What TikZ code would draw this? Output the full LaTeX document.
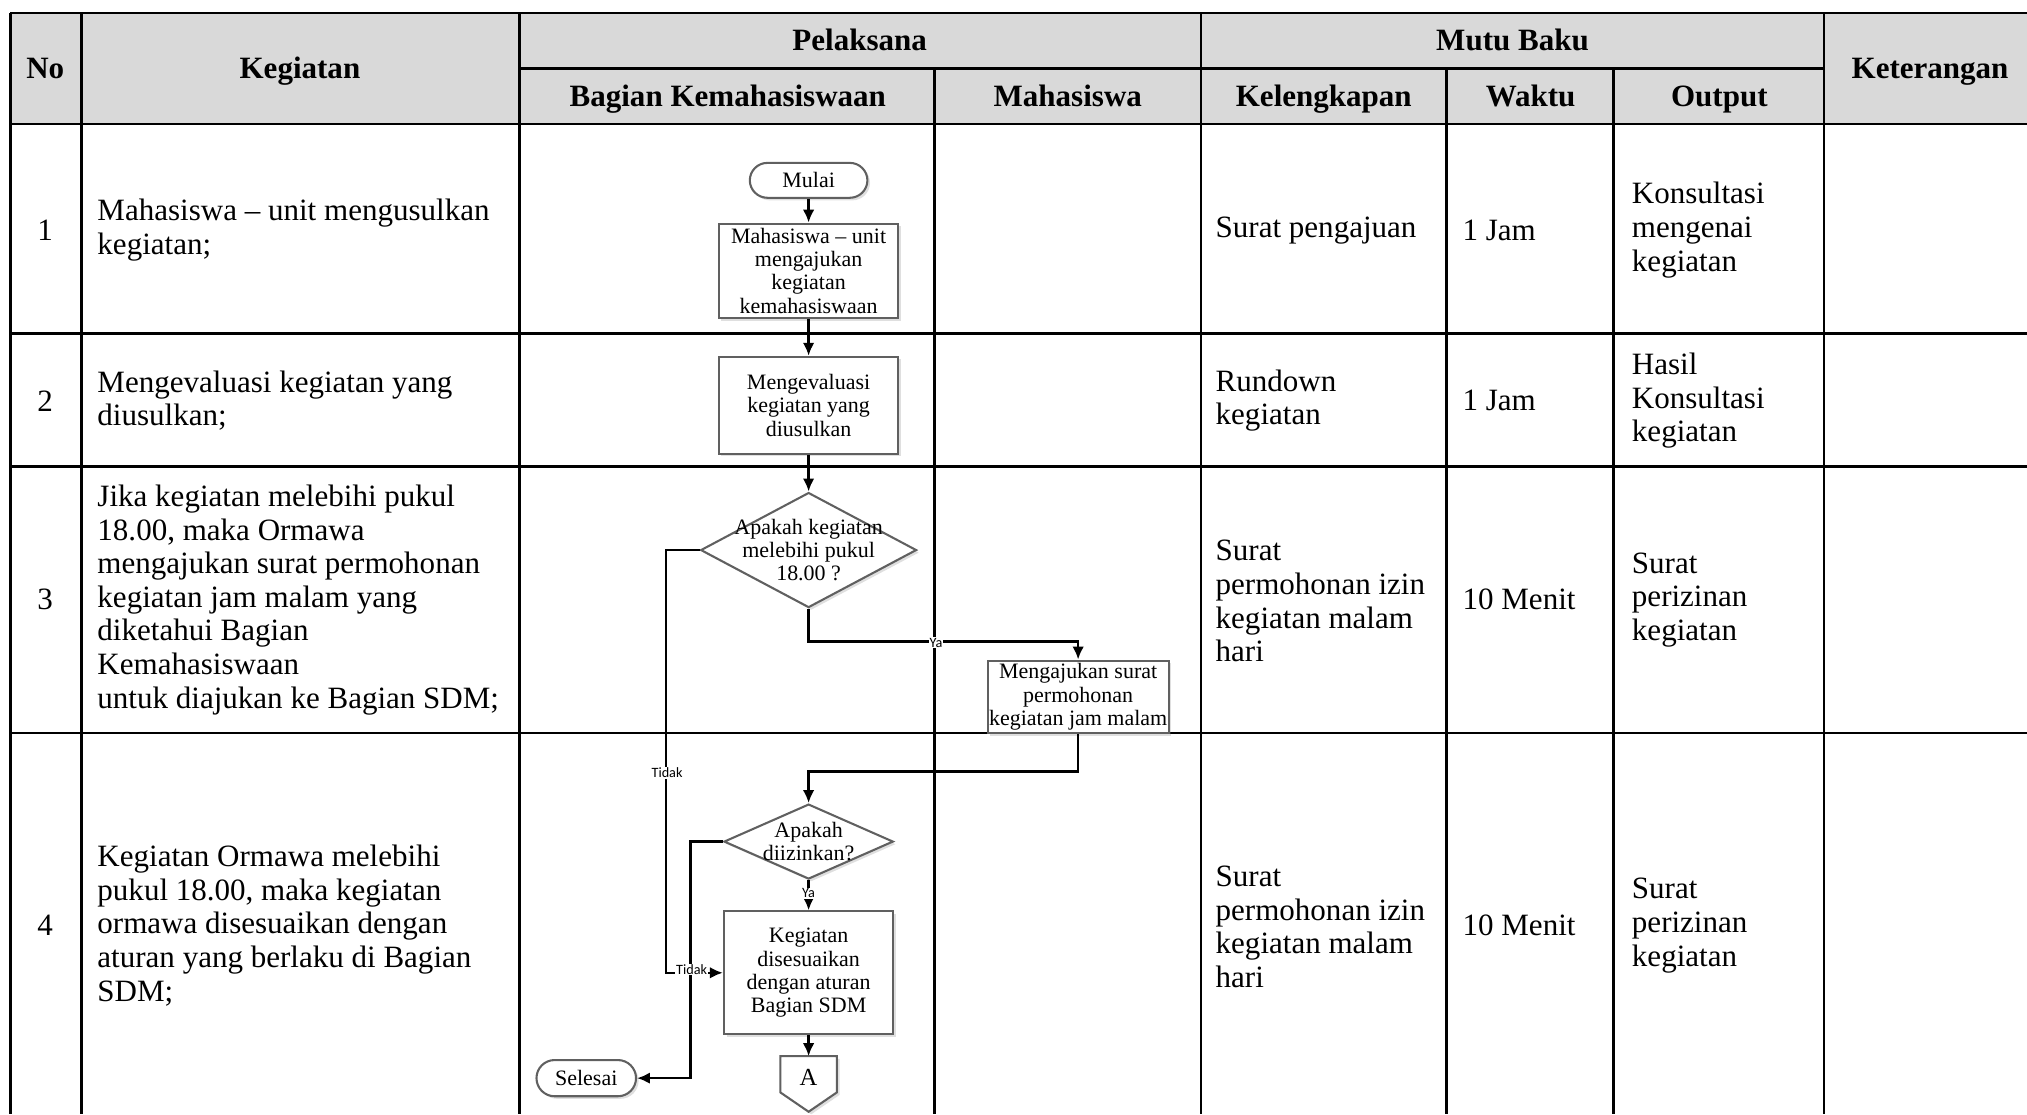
\documentclass[tikz,border=0pt]{standalone}
\usepackage{fontspec}
\setmainfont{Liberation Serif}
\newfontfamily\labelfont{Carlito}
\usetikzlibrary{arrows.meta,shadows,calc,shapes.geometric}
\definecolor{headfill}{RGB}{217,217,217}
\definecolor{shapeline}{RGB}{96,96,96}

\begin{document}
\begin{tikzpicture}[x=0.5pt,y=-0.5pt,
  grid/.style={line width=1pt,black},
  headtxt/.style={font=\bfseries\fontsize{12}{13}\selectfont,inner sep=0,text height=9pt,text depth=1pt},
  celltxt/.style={font=\fontsize{12}{13}\selectfont,align=left,anchor=west,inner sep=0},
  numtxt/.style={font=\fontsize{12}{13}\selectfont,inner sep=0},
  fctxt/.style={font=\fontsize{8.5}{9}\selectfont,align=center,inner sep=0},
  shade/.style={drop shadow={shadow xshift=1pt,shadow yshift=-1pt,opacity=0.25}},
  fcbox/.style={draw=shapeline,line width=0.8pt,fill=white,fctxt,shade},
  terminal/.style={fcbox,rounded corners=6.8pt,minimum height=13.5pt},
  decision/.style={diamond,draw=shapeline,line width=0.8pt,fill=white,inner sep=0,shade},
  arr/.style={line width=1pt,-{Latex[length=5pt,width=4.5pt]}},
  lbl/.style={font=\labelfont\fontsize{5.5}{6}\selectfont,fill=white,inner sep=0.3pt}
]
\useasboundingbox (0,0) rectangle (1568,862);

% ---------- table header ----------
\fill[headfill] (8,10) rectangle (1568,96);
\draw[grid] (8,10) -- (1568,10);
\draw[grid] (402,53) -- (1411,53);
\foreach \yy in {96,258,361,567} \draw[grid] (8,\yy) -- (1568,\yy);
\foreach \xx in {8,63,402,929,1411} \draw[grid] (\xx,10) -- (\xx,862);
\foreach \xx in {723,1119,1248} \draw[grid] (\xx,53) -- (\xx,862);

\node[headtxt] (hNo)  at (35,53)   {No};
\node[headtxt] (hKeg) at (232,53)  {Kegiatan};
\node[headtxt] (hPel) at (665,31)  {Pelaksana};
\node[headtxt] (hBK)  at (563,74)  {Bagian Kemahasiswaan};
\node[headtxt] (hMhs) at (826,74)  {Mahasiswa};
\node[headtxt] (hMB)  at (1170,31) {Mutu Baku};
\node[headtxt] (hKel) at (1024,74) {Kelengkapan};
\node[headtxt] (hWkt) at (1184,74) {Waktu};
\node[headtxt] (hOut) at (1330,74) {Output};
\node[headtxt] (hKet) at (1493,53) {Keterangan};

% ---------- row numbers ----------
\node[numtxt] (no1) at (35,178) {1};
\node[numtxt] (no2) at (35,310) {2};
\node[numtxt] (no3) at (35,464) {3};
\node[numtxt] (no4) at (35,716) {4};

% ---------- activities ----------
\node[celltxt] (keg1) at (75,178) {Mahasiswa -- unit mengusulkan\\kegiatan;};
\node[celltxt] (keg2) at (75,310) {Mengevaluasi kegiatan yang\\diusulkan;};
\node[celltxt] (keg3) at (75,464) {Jika kegiatan melebihi pukul\\18.00, maka Ormawa\\mengajukan surat permohonan\\kegiatan jam malam yang\\diketahui Bagian\\Kemahasiswaan\\untuk diajukan ke Bagian SDM;};
\node[celltxt] (keg4) at (75,716) {Kegiatan Ormawa melebihi\\pukul 18.00, maka kegiatan\\ormawa disesuaikan dengan\\aturan yang berlaku di Bagian\\SDM;};

% ---------- quality standards ----------
\node[celltxt] (kel1) at (940,178) {Surat pengajuan};
\node[celltxt] (kel2) at (940,310) {Rundown\\kegiatan};
\node[celltxt] (kel3) at (940,465) {Surat\\permohonan izin\\kegiatan malam\\hari};
\node[celltxt] (kel4) at (940,717) {Surat\\permohonan izin\\kegiatan malam\\hari};

\node[celltxt] (wkt1) at (1131,178) {1 Jam};
\node[celltxt] (wkt2) at (1131,310) {1 Jam};
\node[celltxt] (wkt3) at (1131,464) {10 Menit};
\node[celltxt] (wkt4) at (1131,716) {10 Menit};

\node[celltxt] (out1) at (1262,178) {Konsultasi\\mengenai\\kegiatan};
\node[celltxt] (out2) at (1262,310) {Hasil\\Konsultasi\\kegiatan};
\node[celltxt] (out3) at (1262,464) {Surat\\perizinan\\kegiatan};
\node[celltxt] (out4) at (1262,716) {Surat\\perizinan\\kegiatan};

% ---------- flowchart ----------
\node[terminal,minimum width=45.5pt] (mulai) at (625.5,139.5) {Mulai};
\node[fcbox,minimum width=69.5pt,minimum height=36.5pt] (box1) at (625.5,209.5)
  {Mahasiswa -- unit\\mengajukan\\kegiatan\\kemahasiswaan};
\node[fcbox,minimum width=69.5pt,minimum height=37.5pt] (box2) at (625.5,313.5)
  {Mengevaluasi\\kegiatan yang\\diusulkan};
\node[decision,minimum width=83.5pt,minimum height=44.5pt,
  label={[fctxt]center:{Apakah kegiatan\\melebihi pukul\\18.00 ?}}] (dec1) at (625.5,425.5) {};
\node[fcbox,minimum width=70pt,minimum height=28pt] (box3) at (834,539)
  {Mengajukan surat\\permohonan\\kegiatan jam malam};
\node[decision,minimum width=65.5pt,minimum height=29pt,
  label={[fctxt]center:{Apakah\\diizinkan?}}] (dec2) at (625.5,651) {};
\node[fcbox,minimum width=65.5pt,minimum height=47.5pt] (box4) at (625.5,752.5)
  {Kegiatan\\disesuaikan\\dengan aturan\\Bagian SDM};
\node[terminal,minimum width=38.5pt,minimum height=14pt,rounded corners=7pt] (selesai) at (453.5,834) {Selesai};

% off-page connector
\node[fctxt,minimum width=21.5pt,minimum height=16pt,anchor=north] (conA) at (625.5,817) {};
\draw[draw=shapeline,line width=0.8pt,fill=white,shade]
  (conA.north west) -- (conA.north east) -- ($(conA.north east)+(0,28)$)
  -- ($(conA.north)+(0,43)$) -- ($(conA.north west)+(0,28)$) -- cycle;
\node[fctxt,font=\fontsize{9.5}{10}\selectfont] (conAtxt) at (conA.center) {A};

% connectors
\draw[arr] (mulai) -- (box1);
\draw[arr] (box1) -- (box2);
\draw[arr] (box2) -- (dec1);
\draw[arr] (dec1.south) |- ($(box3.north)+(0,-14)$) -- (box3.north);
\draw[arr] (box3.south) -- ++(0,29) -| (dec2.north);
\draw[arr] (dec2.south) -- (box4.north);
\draw[arr] (box4.south) -- (conA.north);
\draw[arr] (dec1.west) -- ++(-26,0) |- (box4.west);
\draw[arr] (dec2.west) -- ++(-25,0) |- (selesai.east);

% connector labels
\node[lbl] (ya1)    at (724,497)   {Ya};
\node[lbl] (ya2)    at (625.5,691) {Ya};
\node[lbl] (tidak1) at (516,598)   {Tidak};
\node[lbl] (tidak2) at (535,750)   {Tidak};
\end{tikzpicture}
\end{document}
